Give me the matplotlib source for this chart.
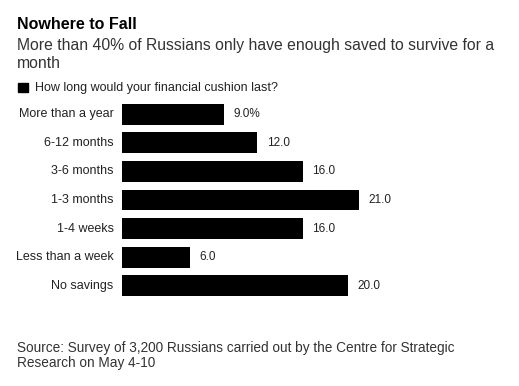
import matplotlib
matplotlib.use('Agg')
import matplotlib.pyplot as plt
from matplotlib.patches import Rectangle

categories = ["More than a year", "6-12 months", "3-6 months", "1-3 months",
              "1-4 weeks", "Less than a week", "No savings"]
values = [9.0, 12.0, 16.0, 21.0, 16.0, 6.0, 20.0]
value_labels = ["9.0%", "12.0", "16.0", "21.0", "16.0", "6.0", "20.0"]

plt.rcParams['font.family'] = ['Liberation Sans', 'DejaVu Sans']

W, H = 519, 386
fig = plt.figure(figsize=(W / 100, H / 100), dpi=100)

def px(x, y):
    return x / W, 1 - y / H

# axes: x 122..500, y 100..300 pixels
ax = fig.add_axes([122 / W, 1 - 300 / H, (500 - 122) / W, 200 / H])
ypos = list(range(len(categories)))
ax.barh(ypos, values, height=0.73, color='black')
ax.set_xlim(0, 378 / 11.29)
ax.set_ylim(len(categories) - 0.5, -0.5)
ax.axis('off')

for y, v, lab in zip(ypos, values, value_labels):
    ax.annotate(lab, (v, y), xytext=(7, 0), textcoords='offset points',
                va='center', ha='left', fontsize=8.5, color='#222222')
    ax.annotate(categories[y], (0, y), xytext=(-6, 0), textcoords='offset points',
                va='center', ha='right', fontsize=9, color='#222222')

fig.text(*px(17, 24.5), "Nowhere to Fall", fontsize=11.5, fontweight='bold',
         va='center', ha='left', color='black')
fig.text(*px(17, 38), "More than 40% of Russians only have enough saved to survive for a\nmonth",
         fontsize=11.35, va='top', ha='left', color='#333333', linespacing=1.28)

fig.patches.append(Rectangle(px(18, 92), 10 / W, 9 / H, transform=fig.transFigure,
                             color='black'))
fig.text(*px(35, 88), "How long would your financial cushion last?", fontsize=9,
         va='center', ha='left', color='#222222')

fig.text(*px(17, 341), "Source: Survey of 3,200 Russians carried out by the Centre for Strategic\nResearch on May 4-10",
         fontsize=9.8, va='top', ha='left', color='#333333', linespacing=1.05)

fig.savefig('out.png', dpi=100)
